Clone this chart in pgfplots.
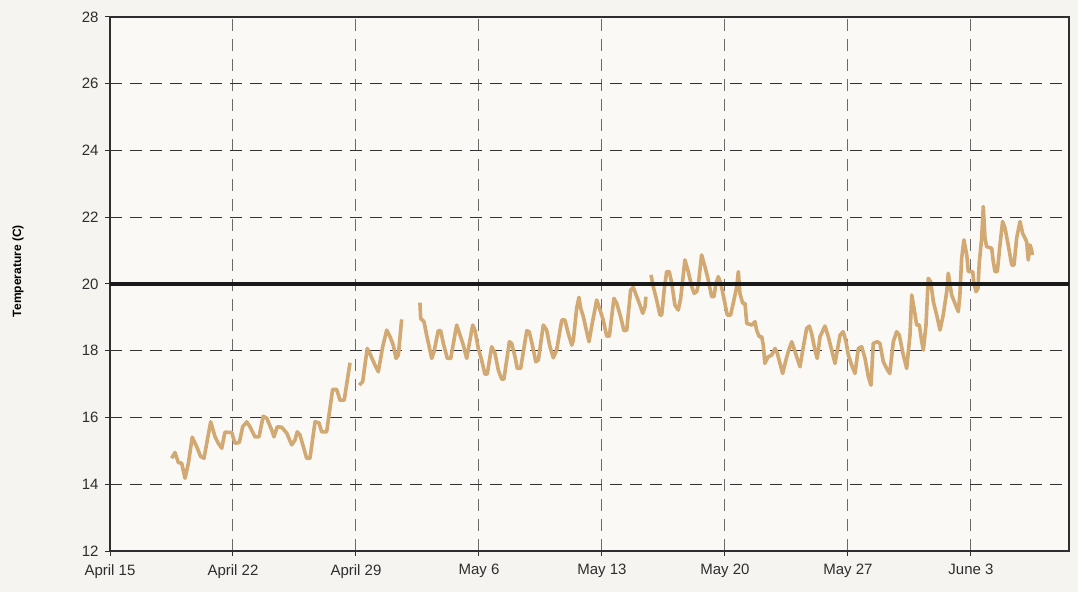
\documentclass[border=0pt]{standalone}
\usepackage{fontspec}
\setmainfont{Liberation Sans}
\usepackage{pgfplots}
\usepackage{pgfplotstable}
\pgfplotsset{compat=1.18}
\definecolor{outerbg}{HTML}{F6F4F0}
\definecolor{plotbg}{HTML}{FAF9F6}
\definecolor{tan}{HTML}{D2A873}
\definecolor{axisgray}{HTML}{2E2E2E}
\definecolor{vgrid}{HTML}{6A6A6A}
\definecolor{hgrid}{HTML}{333333}

\pgfplotstableread{
day temp
3.51 14.78
3.70 14.95
3.89 14.65
4.08 14.63
4.27 14.18
4.46 14.63
4.68 15.41
4.93 15.13
5.16 14.83
5.35 14.78
5.73 15.87
5.98 15.42
6.16 15.23
6.36 15.08
6.54 15.56
6.93 15.55
7.11 15.23
7.36 15.25
7.55 15.72
7.78 15.87
7.97 15.72
8.25 15.42
8.48 15.42
8.72 16.04
8.92 15.98
9.20 15.63
9.33 15.42
9.52 15.72
9.77 15.71
10.06 15.53
10.34 15.18
10.53 15.33
10.66 15.57
10.81 15.48
11.00 15.13
11.19 14.78
11.38 14.78
11.67 15.87
11.89 15.84
12.05 15.57
12.33 15.57
12.67 16.84
12.90 16.84
13.09 16.52
13.33 16.52
13.66 17.64
13.90 nan
14.19 16.97
14.38 17.07
14.64 18.07
14.83 17.87
15.08 17.57
15.27 17.37
15.52 18.12
15.75 18.62
15.94 18.42
16.12 18.17
16.28 17.77
16.41 17.87
16.60 18.94
17.10 nan
17.64 19.44
17.68 18.97
17.87 18.87
18.02 18.47
18.31 17.77
18.44 17.97
18.68 18.60
18.82 18.60
18.97 18.22
19.20 17.77
19.39 17.77
19.73 18.77
19.92 18.47
20.11 18.17
20.30 17.77
20.64 18.77
20.77 18.62
20.96 18.07
21.15 17.72
21.34 17.30
21.47 17.30
21.72 18.12
21.91 17.92
22.10 17.42
22.29 17.15
22.42 17.15
22.73 18.27
22.86 18.22
23.05 17.82
23.18 17.47
23.37 17.47
23.72 18.60
23.86 18.57
24.06 18.12
24.23 17.67
24.38 17.72
24.66 18.77
24.85 18.62
25.04 18.12
25.23 17.79
25.42 18.02
25.71 18.92
25.89 18.92
26.08 18.52
26.28 18.17
26.37 18.32
26.56 19.27
26.69 19.60
26.79 19.27
26.94 19.02
27.13 18.57
27.26 18.27
27.41 18.72
27.70 19.52
27.89 19.22
28.07 18.92
28.27 18.44
28.42 18.44
28.68 19.57
28.84 19.42
29.06 19.02
29.25 18.60
29.41 18.62
29.63 19.82
29.78 19.90
29.98 19.62
30.16 19.37
30.32 19.12
30.45 19.32
30.50 19.62
30.65 nan
30.79 20.27
30.92 19.92
31.11 19.52
31.30 19.07
31.40 19.07
31.53 19.77
31.68 20.37
31.83 20.37
31.97 20.02
32.15 19.37
32.34 19.22
32.48 19.57
32.72 20.72
32.91 20.37
33.11 19.92
33.24 19.72
33.39 19.77
33.48 19.97
33.67 20.87
33.86 20.52
34.05 20.12
34.24 19.62
34.37 19.62
34.49 20.02
34.62 20.22
34.76 20.02
34.90 19.67
35.13 19.07
35.32 19.07
35.51 19.52
35.67 19.92
35.76 20.37
35.85 19.72
36.01 19.42
36.14 19.42
36.24 18.82
36.52 18.77
36.71 18.87
36.80 18.62
36.95 18.42
37.09 18.42
37.18 18.17
37.27 17.62
37.46 17.82
37.66 17.87
37.85 18.07
37.98 17.92
38.13 17.62
38.28 17.32
38.47 17.72
38.60 17.97
38.80 18.27
38.93 18.07
39.08 17.82
39.27 17.52
39.46 18.12
39.65 18.67
39.80 18.74
39.93 18.52
40.12 18.02
40.25 17.77
40.41 18.42
40.69 18.74
40.88 18.42
41.07 18.02
41.26 17.62
41.55 18.47
41.73 18.57
41.89 18.27
42.02 17.87
42.21 17.57
42.40 17.32
42.59 18.07
42.78 18.12
42.97 17.77
43.16 17.22
43.31 16.97
43.44 18.22
43.67 18.27
43.82 18.22
44.01 17.67
44.20 17.47
44.38 17.32
44.58 18.27
44.77 18.57
44.92 18.47
45.15 17.87
45.34 17.47
45.53 18.47
45.63 19.67
45.76 19.27
45.91 18.77
46.06 18.77
46.20 18.27
46.29 18.02
46.44 18.77
46.57 20.17
46.71 20.07
46.86 19.47
47.05 19.07
47.24 18.62
47.42 19.07
47.62 19.77
47.71 20.32
47.81 19.97
47.90 19.67
48.05 19.47
48.28 19.17
48.37 19.67
48.47 20.77
48.60 21.32
48.76 20.87
48.85 20.37
49.10 20.37
49.17 20.02
49.29 19.77
49.40 19.87
49.47 20.62
49.61 21.37
49.70 22.32
49.80 21.37
49.89 21.12
50.18 21.07
50.27 20.67
50.37 20.37
50.50 20.37
50.65 21.17
50.80 21.87
50.94 21.67
51.12 21.17
51.32 20.57
51.45 20.57
51.60 21.37
51.79 21.87
51.94 21.52
52.17 21.27
52.26 20.72
52.36 21.17
52.45 21.02
52.49 20.87
}\temps

\begin{document}
\begin{tikzpicture}
\fill[outerbg] (0,0) rectangle (1078bp,592bp);
\begin{axis}[
  at={(110bp,41bp)}, anchor=south west,
  scale only axis, width=959bp, height=534bp,
  xmin=0, xmax=54.58, ymin=12, ymax=28,
  xtick={0,7,14,21,28,35,42,49},
  xticklabels={April 15,April 22,April 29,May 6,May 13,May 20,May 27,June 3},
  ytick={12,14,...,28},
  tick pos=left, tick align=outside,
  major tick length=5bp,
  every tick/.style={axisgray, line width=1bp},
  axis line style={axisgray, line width=1.4bp},
  axis background/.style={fill=plotbg},
  grid=major,
  x grid style={vgrid, line width=1bp, dash pattern=on 12bp off 8bp},
  y grid style={hgrid, line width=1.1bp, dash pattern=on 12bp off 8bp},
  ticklabel style={font=\fontsize{15bp}{17bp}\selectfont, text=axisgray},
  /pgf/number format/assume math mode=true,
  xticklabel style={yshift=-5bp},
  yticklabel style={xshift=-3bp},
  ylabel={Temperature (C)},
  ylabel style={font=\bfseries\fontsize{12bp}{14bp}\selectfont, at={(axis description cs:-0.0959,0.524)}, anchor=center, rotate=0},
  unbounded coords=jump,
  clip=true,
]
\addplot[tan, line width=3.6bp, line join=round] table[x=day, y=temp] {\temps};
\addplot[black!90, line width=3.2bp] coordinates {(0,20) (54.58,20)};
\end{axis}
\end{tikzpicture}
\end{document}
